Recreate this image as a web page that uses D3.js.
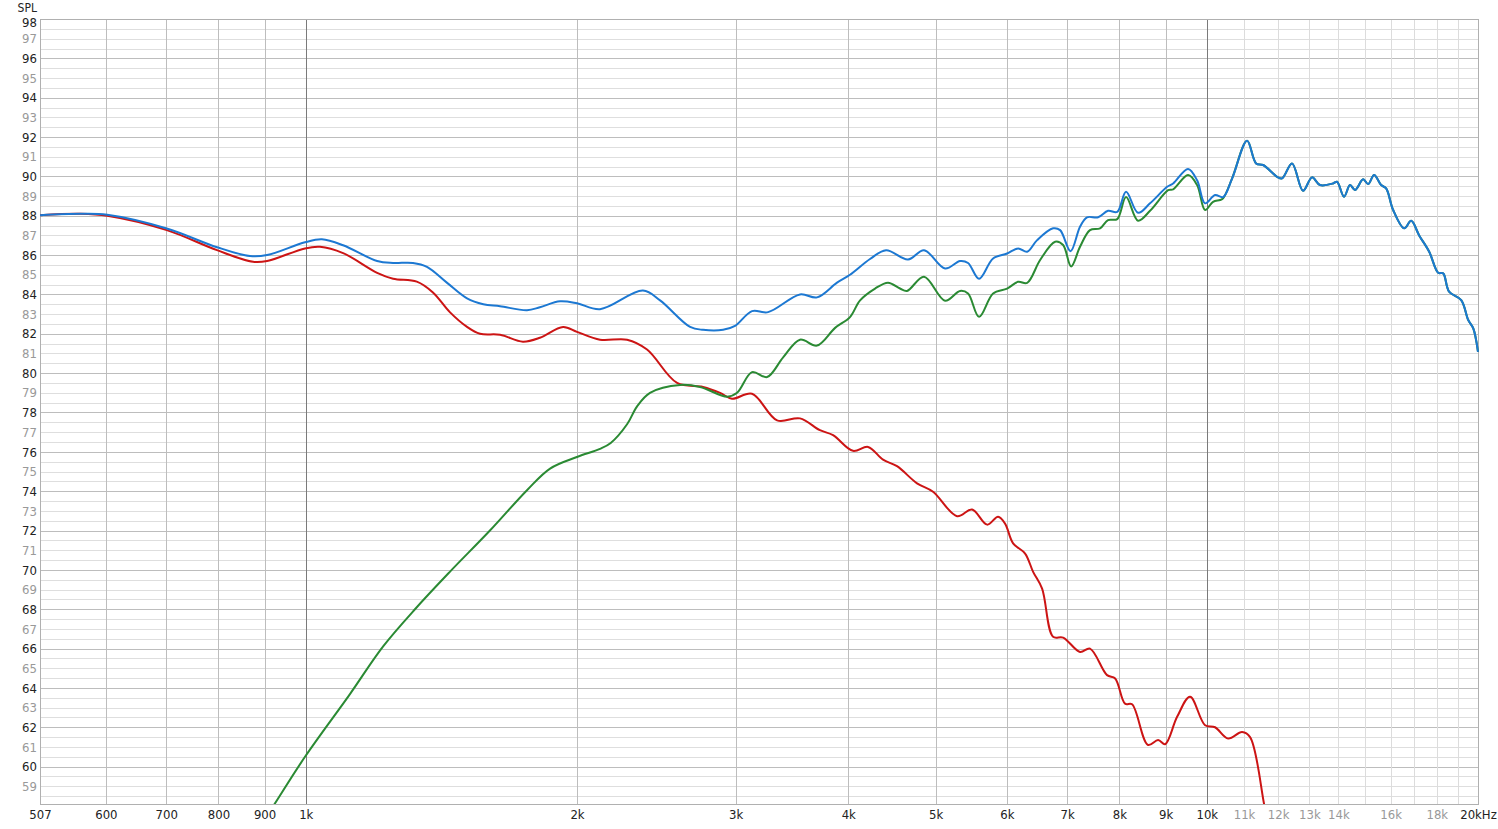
<!DOCTYPE html>
<html>
<head>
<meta charset="utf-8">
<script src="https://cdn.jsdelivr.net/npm/d3@7"></script>
<style>
  html, body { margin: 0; padding: 0; background: #fff; }
  svg { display: block; }
  text { font-family: "Liberation Sans Narrow", "DejaVu Sans Condensed", "Noto Sans", sans-serif; font-size: 13px; }
</style>
</head>
<body>
<svg id="chart" width="1498" height="829"></svg>
<script>
// ---------------- data ----------------
const yTickValues = [59,60,61,62,63,64,65,66,67,68,69,70,71,72,73,74,75,76,77,78,79,80,81,82,83,84,85,86,87,88,89,90,91,92,93,94,95,96,97,98];
const xTickValues = [507,600,700,800,900,1000,2000,3000,4000,5000,6000,7000,8000,9000,10000,11000,12000,13000,14000,16000,18000,20000];
const xTickLabels = ["507","600","700","800","900","1k","2k","3k","4k","5k","6k","7k","8k","9k","10k","11k","12k","13k","14k","16k","18k","20kHz"];
const xGridMid = [600,700,800,900,2000,3000,4000,5000,6000,7000,8000,9000];
const xGridDark = [1000,10000];
const xGridLight = [11000,12000,13000,14000,15000,16000,17000,18000,19000];

// summed response (blue)
const sumData = [
  [507,88.03],[562,88.1],[602,88.05],[701,87.35],[797,86.4],[867,85.95],[906,86.0],[998,86.65],
  [1042,86.8],[1100,86.5],[1200,85.7],[1250,85.6],[1315,85.6],[1363,85.4],[1434,84.6],[1510,83.8],
  [1574,83.5],[1643,83.4],[1760,83.2],[1819,83.35],[1915,83.65],[2000,83.55],[2121,83.25],[2367,84.2],
  [2473,83.7],[2670,82.35],[2760,82.2],[2905,82.2],[2995,82.4],[3128,83.15],[3259,83.1],[3536,84.0],
  [3693,83.85],[3887,84.6],[4018,85.0],[4229,85.8],[4406,86.25],[4660,85.78],[4855,86.25],[5123,85.32],
  [5323,85.7],[5433,85.6],[5588,84.8],[5792,85.83],[6003,86.08],[6174,86.34],[6319,86.17],[6482,86.76],
  [6752,87.36],[6874,87.27],[7060,86.2],[7233,87.44],[7363,87.92],[7575,87.92],[7770,88.25],[7954,88.2],
  [8136,89.22],[8389,88.15],[8650,88.63],[9037,89.47],[9176,89.64],[9533,90.38],[9756,89.8],[9957,88.63],
  [10214,89.05],[10426,88.95],[10670,89.9],[11085,91.81],[11343,90.66],[11548,90.58],[11969,89.98],[12123,89.9],
  [12434,90.66],[12789,89.27],[13087,89.95],[13357,89.56],[13808,89.64],[13950,89.73],[14202,88.97],[14421,89.56],
  [14607,89.31],[14912,89.85],[15104,89.61],[15337,90.07],[15614,89.56],[15815,89.39],[16102,88.29],[16562,87.36],
  [16861,87.74],[17208,87.0],[17655,86.17],[18065,85.1],[18297,85.07],[18575,84.14],[19160,83.71],[19507,82.7],
  [19760,82.27],[20000,81.08]
];

// woofer (red)
const wooferData = [
  [507,88.03],[562,88.1],[602,88.0],[701,87.27],[797,86.25],[874,85.66],[906,85.7],[998,86.34],
  [1037,86.42],[1100,86.1],[1200,85.1],[1250,84.8],[1328,84.65],[1384,84.1],[1445,83.1],[1510,82.35],
  [1561,82.0],[1643,81.95],[1742,81.6],[1819,81.8],[1930,82.35],[2000,82.1],[2121,81.7],[2273,81.7],
  [2392,81.2],[2583,79.5],[2760,79.3],[2883,79.0],[2972,78.7],[3128,78.95],[3335,77.6],[3536,77.7],
  [3721,77.1],[3848,76.85],[4049,76.05],[4208,76.25],[4372,75.6],[4531,75.27],[4769,74.4],[4968,73.97],
  [5283,72.73],[5489,73.07],[5704,72.3],[5867,72.7],[5972,72.35],[6096,71.35],[6286,70.83],[6416,69.9],
  [6565,69.05],[6752,66.6],[6927,66.56],[7233,65.83],[7420,66.0],[7750,64.65],[7913,64.48],[8115,63.2],
  [8262,63.17],[8606,61.1],[8831,61.35],[8991,61.14],[9270,62.53],[9582,63.55],[9957,62.1],[10214,62.0],
  [10561,61.43],[10944,61.76],[11170,61.5],[11577,58.1],[11700,57.0]
];

// tweeter (green)
const tweeterData = [
  [900,57.3],[924,58.12],[998,60.5],[1120,63.7],[1218,66.1],[1328,68.1],[1445,69.9],[1601,72.0],
  [1760,74.05],[1867,75.15],[2003,75.75],[2121,76.15],[2180,76.45],[2273,77.4],[2331,78.3],[2410,79.0],
  [2603,79.4],[2739,79.3],[2935,78.8],[3011,79.0],[3128,80.05],[3251,79.8],[3387,80.8],[3536,81.7],
  [3693,81.4],[3868,82.3],[4018,82.85],[4123,83.7],[4284,84.3],[4428,84.6],[4566,84.3],[4648,84.18],
  [4855,84.9],[5123,83.68],[5323,84.18],[5433,84.05],[5588,82.86],[5792,84.05],[6003,84.3],[6174,84.64],
  [6319,84.59],[6532,85.75],[6787,86.68],[6927,86.51],[7070,85.42],[7233,86.42],[7420,87.27],[7614,87.36],
  [7770,87.78],[7954,87.83],[8136,88.95],[8389,87.75],[8650,88.25],[9060,89.3],[9176,89.34],[9533,90.07],
  [9756,89.56],[9957,88.29],[10162,88.71],[10346,88.8],[10426,88.88],[10670,89.9],[11085,91.81],[11343,90.66],
  [11548,90.58],[11969,89.98],[12123,89.9],[12434,90.66],[12789,89.27],[13087,89.95],[13357,89.56],[13808,89.64],
  [13950,89.73],[14202,88.97],[14421,89.56],[14607,89.31],[14912,89.85],[15104,89.61],[15337,90.07],[15614,89.56],
  [15815,89.39],[16102,88.29],[16562,87.36],[16861,87.74],[17208,87.0],[17655,86.17],[18065,85.1],[18297,85.07],
  [18575,84.14],[19160,83.71],[19507,82.7],[19760,82.27],[20000,81.08]
];

// ---------------- chart ----------------
const L = 40, R = 1478, T = 19, B = 804;
const svg = d3.select("#chart");
const x = d3.scaleLog().domain([507, 20000]).range([L, R]);
const y = d3.scaleLinear().domain([58.1, 98]).range([B, T]);

const grid = svg.append("g");
// horizontal half-dB minor lines
const halfSteps = [];
for (let v = 58.5; v <= 98; v += 0.5) halfSteps.push(v);
grid.selectAll("line.h").data(halfSteps).join("line")
  .attr("x1", L).attr("x2", R)
  .attr("y1", d => Math.round(y(d)) + 0.5).attr("y2", d => Math.round(y(d)) + 0.5)
  .attr("stroke", d => (Math.abs(d % 2) < 1e-6) ? "#bdbdbd" : "#dedede")
  .attr("stroke-width", 1);

// vertical grid
function vlines(vals, color) {
  grid.append("g").selectAll("line").data(vals).join("line")
    .attr("x1", d => Math.round(x(d)) + 0.5).attr("x2", d => Math.round(x(d)) + 0.5)
    .attr("y1", T).attr("y2", B)
    .attr("stroke", color).attr("stroke-width", 1);
}
vlines(xGridLight, "#dcdcdc");
vlines(xGridMid, "#bdbdbd");
vlines(xGridDark, "#7a7a7a");

// frame
grid.append("line").attr("x1", L + 0.5).attr("x2", L + 0.5).attr("y1", T).attr("y2", B).attr("stroke", "#b0b0b0");
grid.append("line").attr("x1", R + 0.5).attr("x2", R + 0.5).attr("y1", T).attr("y2", B).attr("stroke", "#b0b0b0");
grid.append("line").attr("x1", L).attr("x2", R + 1).attr("y1", B + 0.5).attr("y2", B + 0.5).attr("stroke", "#b0b0b0");
grid.append("line").attr("x1", L).attr("x2", R + 1).attr("y1", T + 0.5).attr("y2", T + 0.5).attr("stroke", "#b0b0b0");

// y axis labels
const yAxis = d3.axisLeft(y).tickValues(yTickValues).tickSize(0).tickPadding(3).tickFormat(d3.format("d"));
const gy = svg.append("g").attr("transform", `translate(${L},0)`).call(yAxis);
gy.select(".domain").remove();
gy.selectAll("text")
  .style("font-size", "13px")
  .attr("fill", d => d % 2 === 0 ? "#222" : "#999");
// top label nudged down so it clears the axis title
gy.selectAll(".tick").filter(d => d === 98).select("text").attr("y", 3);

svg.append("text").attr("x", 37).attr("y", 12).attr("text-anchor", "end")
  .attr("fill", "#222").style("font-size", "12px").text("SPL");

// x axis labels
const xAxis = d3.axisBottom(x).tickValues(xTickValues).tickSize(0).tickPadding(6)
  .tickFormat((d, i) => xTickLabels[i]);
const gx = svg.append("g").attr("transform", `translate(0,${B})`).call(xAxis);
gx.select(".domain").remove();
gx.selectAll("text")
  .style("font-size", "13px")
  .attr("fill", d => d > 10000 && d < 20000 ? "#999" : "#222");

// clip
svg.append("defs").append("clipPath").attr("id", "clip")
  .append("rect").attr("x", L).attr("y", T - 2).attr("width", R - L + 1).attr("height", B - T + 2);

const line = d3.line()
  .x(d => x(d[0])).y(d => y(d[1]))
  .curve(d3.curveCatmullRom.alpha(0.5));

const plot = svg.append("g").attr("clip-path", "url(#clip)");
plot.append("path").datum(wooferData).attr("d", line)
  .attr("fill", "none").attr("stroke", "#cc1414").attr("stroke-width", 2);
plot.append("path").datum(tweeterData).attr("d", line)
  .attr("fill", "none").attr("stroke", "#2a8a33").attr("stroke-width", 2);
plot.append("path").datum(sumData).attr("d", line)
  .attr("fill", "none").attr("stroke", "#1c78d2").attr("stroke-width", 2);
</script>
</body>
</html>
